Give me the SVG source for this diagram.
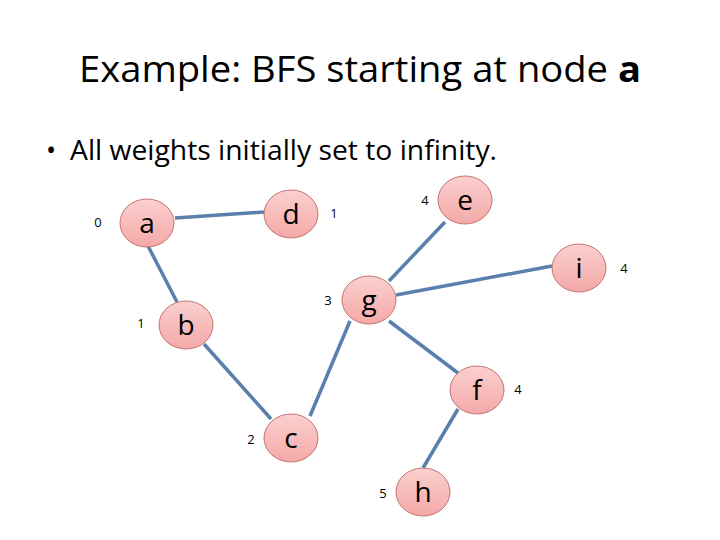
<svg xmlns="http://www.w3.org/2000/svg" width="720" height="540" viewBox="0 0 720 540">
<defs>
<linearGradient id="nodeFill" x1="0" y1="0" x2="0" y2="1">
<stop offset="0" stop-color="#FAD0CF"/>
<stop offset="1" stop-color="#F4A9A8"/>
</linearGradient>
<style>
.node ellipse{fill:url(#nodeFill);stroke:#C47473;stroke-width:1}
.node text{font-family:"Open Sans","Liberation Sans",sans-serif;font-size:28px;fill:#000;text-anchor:middle}
.edge{stroke:#5A7FAD;stroke-width:3.5;fill:none;stroke-linecap:butt}
.lbl{font-family:"Open Sans","Liberation Sans",sans-serif;font-size:13px;fill:#000;text-anchor:middle}
.title{font-family:"Open Sans","Liberation Sans",sans-serif;font-size:36px;fill:#000}
.bullet{font-family:"Open Sans","Liberation Sans",sans-serif;font-size:27px;fill:#000}
</style>
</defs>
<rect width="720" height="540" fill="#fff"/>
<text class="title" x="360" y="82" text-anchor="middle" textLength="562" lengthAdjust="spacingAndGlyphs">Example: BFS starting at node <tspan font-weight="bold">a</tspan></text>
<text class="bullet" x="46" y="160">•</text>
<text class="bullet" x="70" y="160" textLength="427" lengthAdjust="spacingAndGlyphs">All weights initially set to infinity.</text>
<g id="connectors">
<line class="edge" x1="175" y1="218" x2="264" y2="212"/>
<line class="edge" x1="148" y1="246" x2="177" y2="302"/>
<line class="edge" x1="204" y1="344" x2="271" y2="419"/>
<line class="edge" x1="310" y1="416" x2="350" y2="321"/>
<line class="edge" x1="389" y1="281" x2="445" y2="222"/>
<line class="edge" x1="396" y1="295" x2="552" y2="266"/>
<line class="edge" x1="389" y1="321" x2="458" y2="373"/>
<line class="edge" x1="458" y1="409" x2="423" y2="468"/>
</g>
<g id="node-a" class="node"><ellipse cx="147" cy="223" rx="27" ry="24"/><text x="147" y="233">a</text></g>
<g id="node-d" class="node"><ellipse cx="291" cy="214" rx="27" ry="24"/><text x="291" y="224">d</text></g>
<g id="node-b" class="node"><ellipse cx="186" cy="325" rx="27" ry="24"/><text x="186" y="335">b</text></g>
<g id="node-g" class="node"><ellipse cx="369" cy="300" rx="27" ry="24"/><text x="369" y="310">g</text></g>
<g id="node-e" class="node"><ellipse cx="465" cy="200" rx="27" ry="24"/><text x="465" y="210">e</text></g>
<g id="node-i" class="node"><ellipse cx="579" cy="268" rx="27" ry="24"/><text x="579" y="278">i</text></g>
<g id="node-f" class="node"><ellipse cx="477" cy="390" rx="27" ry="24"/><text x="477" y="400">f</text></g>
<g id="node-c" class="node"><ellipse cx="291" cy="438" rx="27" ry="24"/><text x="291" y="448">c</text></g>
<g id="node-h" class="node"><ellipse cx="423" cy="492" rx="27" ry="24"/><text x="423" y="502">h</text></g>
<g id="labels">
<text class="lbl" x="98" y="227">0</text>
<text class="lbl" x="334" y="218">1</text>
<text class="lbl" x="425" y="205">4</text>
<text class="lbl" x="141" y="328">1</text>
<text class="lbl" x="328" y="305">3</text>
<text class="lbl" x="624" y="273">4</text>
<text class="lbl" x="518" y="394">4</text>
<text class="lbl" x="251" y="444">2</text>
<text class="lbl" x="383" y="498">5</text>
</g>
</svg>
